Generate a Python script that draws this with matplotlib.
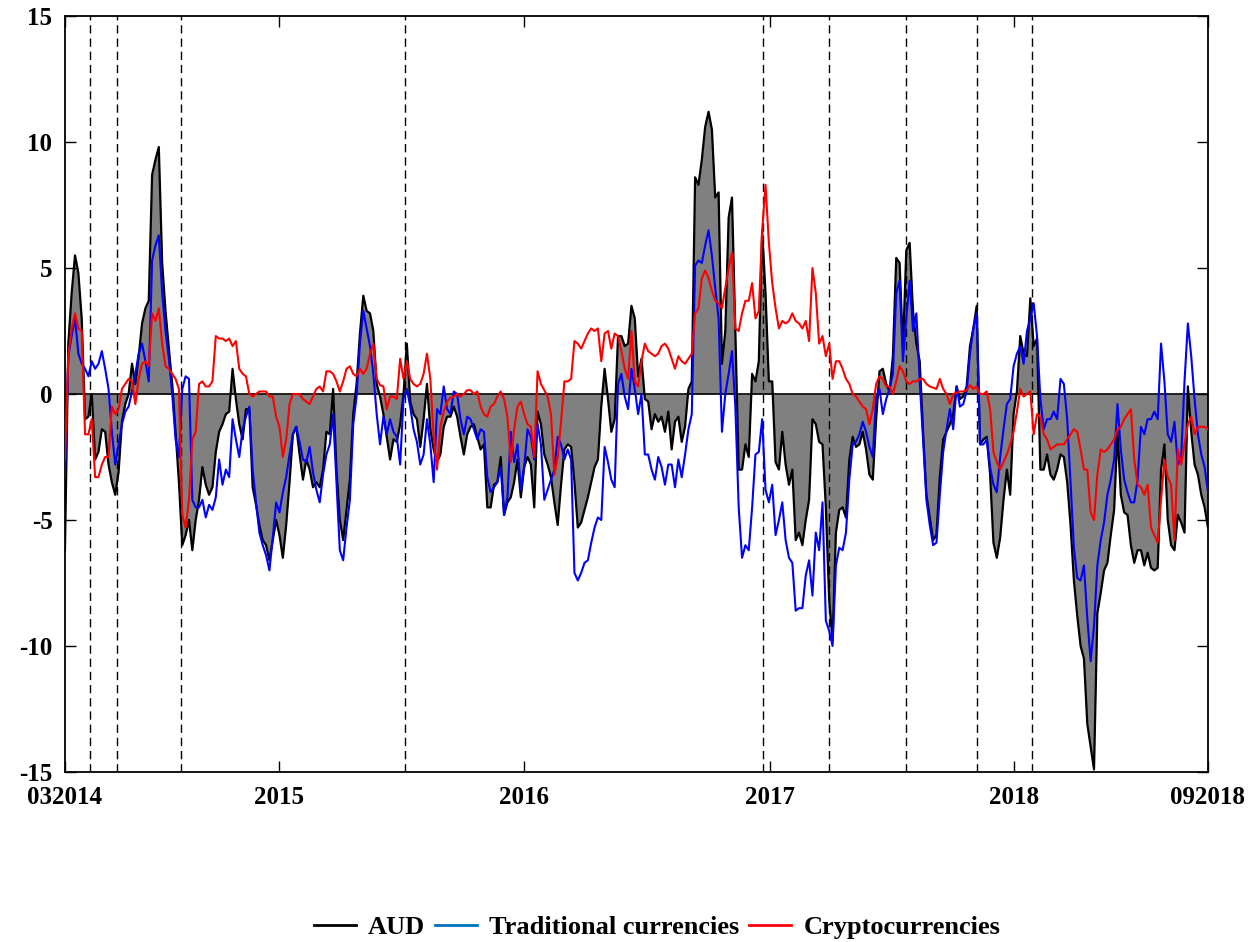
import matplotlib

matplotlib.use("Agg")
import matplotlib.pyplot as plt
from matplotlib.lines import Line2D
import pandas as pd

START = "2014-02-15"
STEP = "5D"

aud = [
    -6.2, 2.0, 4.0, 5.5, 4.8, 3.0, -1.0, -0.9, 0.0, -2.6,
    -2.3, -1.4, -1.5, -2.8, -3.5, -4.0, -3.1, -1.1, -0.4, 0.0,
    1.2, 0.4, 1.5, 2.8, 3.4, 3.7, 8.7, 9.3, 9.8, 5.2,
    3.3, 1.8, 0.4, -1.5, -3.5, -6.0, -5.6, -5.0, -6.2, -5.0,
    -4.2, -2.9, -3.6, -4.0, -3.7, -2.3, -1.5, -1.2, -0.8, -0.7,
    1.0, -0.2, -1.2, -1.8, -0.6, -0.6, -3.7, -4.4, -5.2, -5.8,
    -6.0, -6.6, -5.8, -5.0, -5.6, -6.5, -5.2, -3.5, -1.6, -1.3,
    -2.4, -3.4, -2.6, -3.0, -3.7, -3.5, -3.7, -3.0, -1.5, -1.6,
    0.2, -3.0, -5.0, -5.8, -4.6, -3.4, -0.8, 0.4, 2.4, 3.9,
    3.3, 3.2, 2.5, 0.4, -0.1, -0.8, -1.7, -2.6, -1.8, -1.9,
    -1.2, 0.0, 2.0, -0.3, -0.8, -1.0, -2.1, -1.0, 0.4, -1.4,
    -2.2, -2.7, -2.4, -1.3, -0.9, -0.9, -0.5, -0.9, -1.7, -2.4,
    -1.6, -1.3, -1.2, -1.7, -2.2, -2.0, -4.5, -4.5, -3.6, -3.5,
    -2.5, -4.8, -4.3, -4.1, -3.5, -2.6, -4.1, -2.9, -2.5, -2.8,
    -4.5, -0.7, -1.2, -2.4, -2.8, -3.3, -4.3, -5.2, -3.6, -2.2,
    -2.0, -2.1, -3.5, -5.3, -5.1, -4.6, -4.1, -3.5, -2.9, -2.6,
    -0.5, 1.0, -0.2, -1.5, -1.0, 2.3, 2.3, 1.9, 2.0, 3.5,
    3.0, 0.7, 1.4, -0.2, -0.3, -1.4, -0.8, -1.1, -0.9, -1.5,
    -0.7, -2.2, -1.1, -0.9, -1.9, -1.3, 0.2, 0.5, 8.6, 8.3,
    9.3, 10.6, 11.2, 10.5, 7.8, 8.0, 1.2, 2.5, 7.0, 7.8,
    2.5, -3.0, -3.0, -2.0, -2.5, 0.8, 0.5, 1.3, 6.5, 4.0,
    0.5, 0.5, -2.7, -3.0, -1.5, -2.8, -3.6, -3.0, -5.8, -5.5,
    -6.0, -5.0, -4.2, -1.0, -1.2, -1.9, -2.0, -4.5, -8.2, -9.8,
    -5.5, -4.6, -4.5, -4.9, -2.6, -1.7, -2.1, -2.0, -1.5, -2.2,
    -3.2, -3.4, -1.0, 0.9, 1.0, 0.4, 0.1, 1.5, 5.4, 5.2,
    1.8, 5.7, 6.0, 3.3, 2.0, 1.3, -1.5, -4.0, -4.9, -5.8,
    -5.6, -3.3, -1.8, -1.5, -1.2, -0.8, 0.3, -0.2, -0.1, 0.3,
    1.9, 2.6, 3.5, -2.0, -1.8, -1.7, -3.2, -5.9, -6.5, -5.7,
    -4.2, -3.0, -4.0, -0.8, 0.1, 2.3, 1.6, 1.5, 3.8, 1.9,
    2.2, -3.0, -3.0, -2.4, -3.2, -3.4, -3.0, -2.4, -2.5, -3.5,
    -5.2, -7.4, -8.8, -10.0, -10.5, -13.1, -14.0, -14.9, -8.7, -7.9,
    -7.0, -6.7, -5.6, -4.6, -1.5, -4.0, -4.7, -4.8, -6.0, -6.7,
    -6.2, -6.2, -6.8, -6.3, -6.9, -7.0, -6.9, -3.0, -2.0, -5.0,
    -6.0, -6.2, -4.8, -5.1, -5.5, 0.3, -1.5, -2.8, -3.2, -4.0,
    -4.5, -5.3,
]

traditional = [
    -3.3, 1.5, 2.3, 3.0, 1.6, 1.2, 1.0, 0.7, 1.3, 1.0,
    1.2, 1.7, 1.0, 0.2, -1.5, -2.8, -2.0, -1.2, -0.7, -0.5,
    0.1, 0.8, 1.6, 2.0, 1.3, 0.5, 5.3, 5.9, 6.3, 4.0,
    2.5, 1.4, 0.0, -1.8, -2.5, 0.2, 0.7, 0.6, -4.2, -4.5,
    -4.5, -4.2, -4.9, -4.4, -4.6, -4.1, -2.6, -3.6, -3.0, -3.3,
    -1.0, -1.8, -2.5, -1.4, -0.9, -0.5, -3.0, -4.3, -5.5, -6.0,
    -6.4, -7.0, -5.7, -4.3, -4.7, -3.9, -3.3, -2.4, -1.6, -1.3,
    -1.9, -2.6, -2.7, -2.1, -3.1, -3.8, -4.3, -3.2, -2.4, -2.0,
    -0.8, -3.5, -6.2, -6.6, -5.3, -4.2, -1.2, -0.1, 2.0, 3.3,
    2.6, 1.9, 0.8, -0.8, -2.0, -0.9, -1.6, -1.0, -1.5, -1.7,
    -2.8, -0.2, 0.2, -0.5, -1.4, -1.9, -2.8, -2.4, -1.0, -2.0,
    -3.5, -0.6, -0.8, 0.3, -0.6, -0.8, 0.1, 0.0, -1.0, -1.6,
    -0.9, -1.0, -1.4, -1.8, -1.4, -1.5, -3.3, -3.9, -3.7, -3.5,
    -2.9, -4.8, -4.1, -1.5, -2.7, -2.0, -3.8, -2.9, -1.4, -1.7,
    -2.6, -1.2, -2.0, -4.2, -3.8, -3.4, -3.0, -1.7, -2.0, -2.6,
    -2.2, -2.6, -7.1, -7.4, -7.1, -6.7, -6.6, -5.9, -5.3, -4.9,
    -5.0, -2.1, -2.7, -3.4, -3.7, 0.4, 0.8, -0.1, -0.6, 1.0,
    0.2, -0.8, 0.0, -2.4, -2.4, -3.0, -3.4, -2.5, -2.9, -3.6,
    -2.8, -2.8, -3.7, -2.6, -3.3, -2.4, -1.4, -0.8, 5.1, 5.3,
    5.2, 5.9, 6.5, 5.5, 4.2, 3.0, -1.5, 0.0, 0.8, 1.7,
    -0.5, -4.5, -6.5, -6.0, -6.2, -4.5, -2.4, -2.3, -1.0, -3.8,
    -4.3, -3.6, -5.6, -5.0, -4.3, -5.8, -6.5, -6.7, -8.6, -8.5,
    -8.5, -7.2, -6.6, -8.0, -5.5, -6.2, -4.3, -9.0, -9.4, -10.0,
    -6.8, -6.1, -6.2, -5.5, -3.4, -2.0, -1.9, -1.6, -1.1, -1.5,
    -2.1, -2.5, -0.1, 0.2, -0.8, -0.2, 0.2, 0.8, 4.0, 4.5,
    1.3, 3.0, 4.5, 2.5, 3.2, 0.5, -1.8, -4.2, -5.2, -6.0,
    -5.9, -4.0, -2.3, -1.4, -0.6, -1.4, 0.3, -0.5, -0.4, 0.1,
    1.6, 2.6, 3.2, -2.0, -2.0, -1.8, -2.9, -3.6, -3.9, -2.5,
    -1.4, -0.4, -0.2, 1.1, 1.6, 1.9, 1.2, 2.5, 3.0, 3.6,
    2.3, -0.2, -1.4, -1.0, -1.0, -0.7, -1.0, 0.6, 0.4, -1.0,
    -3.5, -6.1, -7.3, -7.4, -6.8, -8.9, -10.6, -9.2, -6.8, -5.8,
    -5.1, -4.0, -3.4, -2.6, -0.4, -2.2, -3.4, -3.9, -4.3, -4.3,
    -3.4, -1.3, -1.6, -1.0, -1.0, -0.7, -1.0, 2.0, 0.5, -1.6,
    -1.9, -1.1, -2.8, -2.5, 0.5, 2.8, 1.5, -0.2, -1.6, -2.4,
    -2.9, -3.9,
]

crypto = [
    -2.6, 1.5, 2.6, 3.2, 2.6, 2.5, -1.6, -1.6, -1.0, -3.3,
    -3.3, -2.8, -2.5, -2.5, -0.5, -0.8, -0.6, 0.2, 0.4, 0.6,
    0.5, -0.4, 0.6, 1.2, 1.3, 1.1, 3.2, 2.9, 3.4, 2.0,
    1.1, 1.0, 0.8, 0.6, 0.2, -4.8, -5.3, -4.2, -1.8, -1.5,
    0.4, 0.5, 0.3, 0.3, 0.5, 2.3, 2.2, 2.2, 2.1, 2.2,
    1.9, 2.1, 1.0, 0.8, 0.7, 0.0, -0.1, 0.0, 0.1, 0.1,
    0.1, -0.1, -0.1, -0.9, -1.3, -2.5, -1.8, -0.4, 0.0, 0.0,
    0.0, -0.2, -0.3, -0.4, -0.1, 0.2, 0.3, 0.1, 0.9, 0.9,
    0.8, 0.5, 0.1, 0.5, 1.0, 1.1, 0.8, 0.7, 1.0, 0.8,
    1.0, 1.6, 2.0, 0.6, 0.35, 0.3, -0.6, -0.1, -0.1, -0.2,
    1.4, 0.6, 1.3, 0.6, 0.4, 0.3, 0.4, 0.8, 1.6, 0.6,
    -1.7, -3.0, -1.3, -0.7, -0.3, -0.15, -0.1, 0.0, -0.1, 0.0,
    0.15, 0.15, 0.0, 0.1, -0.5, -0.8, -0.9, -0.5, -0.4, -0.1,
    0.1, -0.2, -0.9, -2.7, -1.4, -0.5, -0.3, -0.8, -1.2, -1.3,
    -2.5, 0.9, 0.4, 0.15, -0.1, -0.8, -3.2, -2.5, -1.1, 0.5,
    0.5, 0.6, 2.1, 2.0, 1.8, 2.1, 2.4, 2.6, 2.5, 2.6,
    1.3, 2.4, 2.5, 1.8, 2.4, 2.3, 1.7, 1.0, 0.6, 2.5,
    0.5, 0.3, 1.3, 2.0, 1.7, 1.6, 1.5, 1.6, 1.9, 2.0,
    1.8, 1.4, 1.0, 1.5, 1.3, 1.2, 1.4, 1.6, 3.2, 3.4,
    4.6, 4.9, 4.6, 4.1, 3.7, 3.6, 3.4, 4.2, 5.0, 5.6,
    2.6, 2.5, 3.2, 3.7, 3.7, 4.4, 3.0, 3.3, 6.5, 8.3,
    6.0, 4.4, 3.4, 2.6, 2.9, 2.8, 2.9, 3.2, 2.9, 2.8,
    2.6, 2.9, 2.1, 5.0, 4.0, 2.0, 2.3, 1.5, 2.0, 0.6,
    1.3, 1.3, 1.0, 0.6, 0.4, 0.0, -0.1, -0.3, -0.5, -0.6,
    -1.2, -0.6, 0.4, 0.7, 0.6, 0.3, 0.3, 0.0, 0.5, 1.1,
    0.9, 0.5, 0.4, 0.5, 0.5, 0.6, 0.6, 0.4, 0.3, 0.25,
    0.2, 0.6, 0.2, 0.0, -0.4, 0.0, 0.05, 0.1, 0.1, 0.15,
    0.35, 0.2, 0.3, 0.0, 0.0, 0.1, -0.6, -2.3, -2.7, -3.0,
    -2.7, -2.4, -2.0, -1.5, -0.7, 0.2, -0.1, 0.0, 0.1, -1.6,
    -0.8, -0.9, -1.6, -1.8, -2.2, -2.1, -2.0, -2.0, -2.0, -1.8,
    -1.6, -1.4, -1.5, -2.2, -3.0, -3.0, -4.7, -5.0, -3.2, -2.2,
    -2.3, -2.2, -2.0, -1.8, -1.4, -1.3, -1.0, -0.8, -0.6, -2.6,
    -3.6, -3.7, -4.0, -3.6, -5.3, -5.6, -5.9, -4.2, -2.6, -3.3,
    -3.6, -5.8, -2.2, -2.8, -2.0, -1.2, -0.9, -1.6, -1.3, -1.3,
    -1.3, -1.4,
]

event_dates = [
    "2014-03-24", "2014-05-04", "2014-08-07", "2015-07-07", "2016-12-22",
    "2017-03-31", "2017-07-24", "2017-11-07", "2018-01-27",
]

year_ticks = ["2015-01-01", "2016-01-01", "2017-01-01", "2018-01-01"]
tick_labels = ["032014", "2015", "2016", "2017", "2018", "092018"]


def main() -> None:
    plt.rcParams["font.family"] = ["Liberation Serif", "DejaVu Serif"]
    plt.rcParams["font.weight"] = "bold"
    plt.rcParams["axes.unicode_minus"] = False

    dates = pd.date_range(START, periods=len(aud), freq=STEP)

    fig = plt.figure(figsize=(12.54, 9.42), dpi=100)
    ax = fig.add_axes([0.0518, 0.1805, 0.9115, 0.8025])

    ax.fill_between(dates, aud, 0, color="#808080", linewidth=0, zorder=1)
    ax.axhline(0, color="black", linewidth=1.2, zorder=2)
    for d in event_dates:
        ax.axvline(pd.Timestamp(d), color="black", linewidth=1.0,
                   linestyle=(0, (6, 3.5)), zorder=2)

    ax.plot(dates, aud, color="black", linewidth=1.6, zorder=3)
    ax.plot(dates, traditional, color="#0000ff", linewidth=1.5, zorder=4)
    ax.plot(dates, crypto, color="#ff0000", linewidth=1.5, zorder=5)

    ax.set_xlim(dates[0], dates[-1])
    ax.set_ylim(-15, 15)
    ax.set_yticks([-15, -10, -5, 0, 5, 10, 15])
    ticks = [dates[0]] + [pd.Timestamp(t) for t in year_ticks] + [dates[-1]]
    ax.set_xticks(ticks)
    ax.set_xticklabels(tick_labels)

    ax.tick_params(axis="both", direction="in", length=8, width=1,
                   top=True, right=True, labelsize=18)
    ax.tick_params(axis="x", pad=10)
    ax.tick_params(axis="y", pad=9)
    for lbl in ax.get_xticklabels() + ax.get_yticklabels():
        lbl.set_fontweight("bold")
    for sp in ax.spines.values():
        sp.set_linewidth(1.3)

    handles = [
        Line2D([], [], color="black", linewidth=2),
        Line2D([], [], color="#0072BD", linewidth=2),
        Line2D([], [], color="#ff0000", linewidth=2),
    ]
    fig.legend(handles, ["AUD", "Traditional currencies", "Cryptocurrencies"],
               loc="center", bbox_to_anchor=(0.524, 0.0155), ncol=3,
               frameon=False, handlelength=1.6, handletextpad=0.45,
               columnspacing=0.37, prop={"size": 19, "weight": "bold"})

    fig.savefig("out.png", dpi=100, facecolor="white")


if __name__ == "__main__":
    main()
